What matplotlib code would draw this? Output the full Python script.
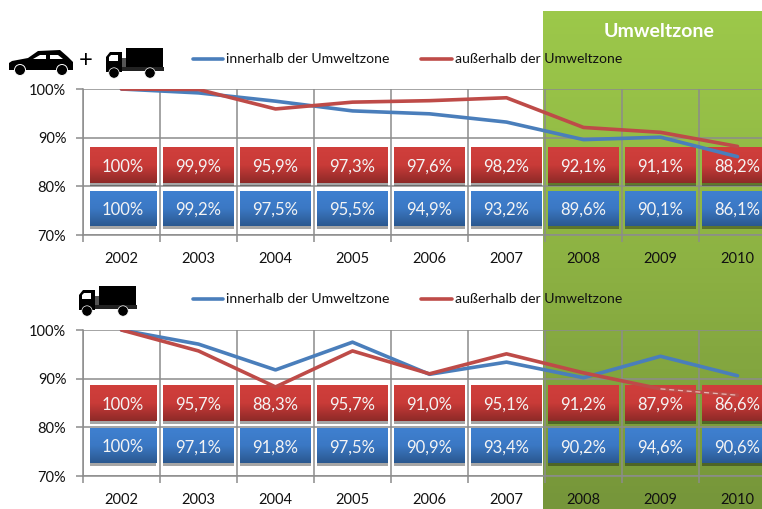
import numpy as np
import matplotlib
matplotlib.use("Agg")
import matplotlib.pyplot as plt
from matplotlib.patches import Polygon, Circle, Rectangle
from matplotlib.colors import LinearSegmentedColormap

plt.rcParams["font.family"] = ["Lato", "DejaVu Sans"]

# === Data ===
years = ["2002", "2003", "2004", "2005", "2006", "2007", "2008", "2009", "2010"]
y_ticks = [70, 80, 90, 100]

all_inside = [100, 99.2, 97.5, 95.5, 94.9, 93.2, 89.6, 90.1, 86.1]
all_outside = [100, 99.9, 95.9, 97.3, 97.6, 98.2, 92.1, 91.1, 88.2]
truck_inside = [100, 97.1, 91.8, 97.5, 90.9, 93.4, 90.2, 94.6, 90.6]
truck_outside = [100, 95.7, 88.3, 95.7, 91.0, 95.1, 91.2, 87.9, 86.6]

# --- Colours ---
BLUE = "#4A7EBB"
RED = "#BE4B48"
GRID = "#8C8C8C"
W, H = 762, 509

fig = plt.figure(figsize=(W / 100, H / 100), dpi=100)

red_cm = LinearSegmentedColormap.from_list("r", ["#D03F3C", "#C93B38", "#8E2A28"])
blue_cm = LinearSegmentedColormap.from_list("b", ["#3F80D0", "#3B78C4", "#2A5890"])
green_cm = LinearSegmentedColormap.from_list("g", ["#9CC84A", "#8DB243", "#76963A"])
grad = np.linspace(0, 1, 64).reshape(-1, 1)


def px_axes(left, top, width, height, zorder):
    return fig.add_axes([left / W, 1 - (top + height) / H, width / W, height / H], zorder=zorder)


# --- Green zone behind the charts ---
bg = px_axes(0, 0, W, H, 0)
bg.set_xlim(0, W)
bg.set_ylim(H, 0)
bg.axis("off")
bg.imshow(grad, extent=(543, W, H, 11), cmap=green_cm, aspect="auto", zorder=1)
bg.set_xlim(0, W)
bg.set_ylim(H, 0)
bg.text(659, 31, "Umweltzone", color="white", fontsize=14, fontweight="bold", ha="center", va="center")


def value_box(ax, i, lo_y, hi_y, cmap, value):
    left = max(i - 0.455, -0.41)
    right = i + 0.455 if i else 0.448
    ax.add_patch(Rectangle((left, lo_y - 0.55), right - left, 0.6, color="black", alpha=0.35, lw=0, zorder=3))
    ax.imshow(grad, extent=(left, right, lo_y, hi_y), cmap=cmap, aspect="auto", zorder=3)
    label = "100%" if value == 100 else f"{value:.1f}%".replace(".", ",")
    ax.text((left + right) / 2 if i == 0 else i, (lo_y + hi_y) / 2, label, color="#F4F4F4",
            fontsize=12, ha="center", va="center_baseline", zorder=5)


def draw_panel(top, inside, outside, red_box, blue_box):
    ax = px_axes(83, top, 77 * 9, 146, 1)
    ax.patch.set_visible(False)
    x = np.arange(len(years))

    ax.plot(x, inside, color=BLUE, lw=2.6, zorder=4, solid_capstyle="round")
    ax.plot(x, outside, color=RED, lw=2.6, zorder=4, solid_capstyle="round")

    for i in x:
        value_box(ax, i, red_box[0], red_box[1], red_cm, outside[i])
        value_box(ax, i, blue_box[0], blue_box[1], blue_cm, inside[i])

    ax.set_xlim(-0.5, 8.5)
    ax.set_ylim(70, 100)
    ax.set_yticks(y_ticks)
    ax.set_yticklabels([f"{t}%" for t in y_ticks], fontsize=10.5, color="#111111")
    ax.set_xticks(x - 0.5)
    ax.set_xticklabels([])
    ax.set_xticks(x, minor=True)
    ax.set_xticklabels(years, minor=True, fontsize=10.5, color="#111111")
    ax.tick_params(axis="x", which="minor", length=0, pad=12)
    ax.tick_params(axis="x", which="major", length=5, width=1.1, color=GRID)
    ax.tick_params(axis="y", length=5, width=1.1, color=GRID, pad=7)
    ax.grid(True, which="major", color=GRID, lw=1.1, zorder=2)
    ax.set_axisbelow(True)
    for side in ["top", "right"]:
        ax.spines[side].set_visible(False)
    for side in ["left", "bottom"]:
        ax.spines[side].set_color(GRID)
        ax.spines[side].set_linewidth(1.1)
    return ax


draw_panel(89, all_inside, all_outside, (80.7, 87.9), (71.85, 79.0))
ax2 = draw_panel(330, truck_inside, truck_outside, (81.3, 88.5), (72.7, 79.7))
# pale dashes where the red line runs along the top of the boxes
ax2.plot(np.arange(7, 9), truck_outside[7:9], color="#E8B9B5", lw=0.9, ls=(0, (4, 3)), zorder=6)

# --- Icons and legends on top ---
top = px_axes(0, 0, W, H, 3)
top.set_xlim(0, W)
top.set_ylim(H, 0)
top.axis("off")
top.patch.set_visible(False)


def truck(dx, dy):
    top.add_patch(Rectangle((126 + dx, 48 + dy), 37, 19, color="black", lw=0))
    top.add_patch(Rectangle((122 + dx, 58 + dy), 4, 9, color="#555555", lw=0))
    top.add_patch(Rectangle((106 + dx, 67 + dy), 58, 4, color="#222222", lw=0))
    top.add_patch(Polygon([(106 + dx, 57 + dy), (110 + dx, 52 + dy), (122 + dx, 52 + dy),
                           (122 + dx, 72 + dy), (106 + dx, 72 + dy)], color="black", lw=0))
    top.add_patch(Polygon([(109 + dx, 57 + dy), (111 + dx, 55 + dy), (118 + dx, 55 + dy),
                           (118 + dx, 61 + dy), (109 + dx, 61 + dy)], color="white", lw=0))
    for wx in (114, 150):
        top.add_patch(Circle((wx + dx, 73 + dy), 5.2, fc="black", ec="white", lw=0.5))


# car
top.add_patch(Polygon([(9, 63), (12, 61), (28, 58), (38, 51), (60, 50), (68, 57), (73, 62), (73, 70), (9, 70)],
                      color="black", lw=0))
top.add_patch(Polygon([(33, 59), (40, 55), (46, 55), (46, 59)], color="white", lw=0))
top.add_patch(Polygon([(50, 55), (58, 55), (63, 59), (50, 59)], color="white", lw=0))
for wx in (20, 62):
    top.add_patch(Circle((wx, 70), 5.5, fc="black", ec="white", lw=0.7))
top.text(86, 60, "+", fontsize=17, ha="center", va="center", color="black")
truck(0, 0)
truck(-27, 238)

for y in (59, 299):
    top.plot([193, 223], [y, y], color=BLUE, lw=2.6, solid_capstyle="round")
    top.text(226, y, "innerhalb der Umweltzone", fontsize=10.1, va="center", color="#111111")
    top.plot([421, 452], [y, y], color=RED, lw=2.6, solid_capstyle="round")
    top.text(455, y, "außerhalb der Umweltzone", fontsize=10.1, va="center", color="#111111")

fig.savefig("out.png", dpi=100)
